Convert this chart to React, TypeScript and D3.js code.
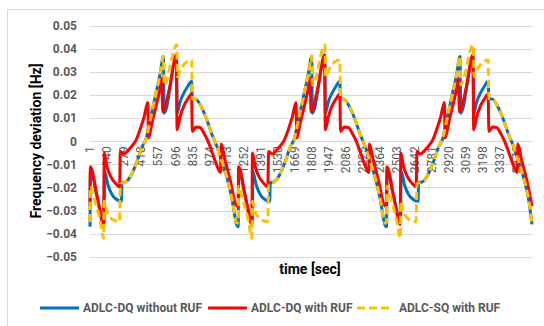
import React, { useEffect, useRef } from 'react';
import * as d3 from 'd3';

// sample index on the category axis, frequency deviation in Hz
const tickLabels = [1, 140, 279, 418, 557, 696, 835, 974, 1113, 1252, 1391, 1530, 1669, 1808, 1947, 2086, 2225, 2364, 2503, 2642, 2781, 2920, 3059, 3198, 3337, 3476];
const yTicks = [0.05, 0.04, 0.03, 0.02, 0.01, 0, -0.01, -0.02, -0.03, -0.04, -0.05];
const sampleCount = 3600;

const dqNoRuf: [number, number][] = [
  [1, -0.037], [4, -0.0124], [58, -0.024], [115, -0.035], [119, -0.013], [148, -0.019], [180, -0.023], [213, -0.025], [257, -0.026], [262, -0.018],
  [294, -0.0175], [327, -0.0155], [359, -0.012], [392, -0.0075], [424, -0.0025], [457, 0.001], [490, 0.009], [530, 0.019], [571, 0.029], [599, 0.0368],
  [605, 0.0122], [705, 0.0365], [711, 0.0122], [734, 0.017], [766, 0.021], [799, 0.024], [828, 0.026], [834, 0.0185], [864, 0.0183], [897, 0.016],
  [929, 0.0125], [962, 0.008], [994, 0.003], [1033, -0.002], [1076, -0.009], [1114, -0.0153], [1157, -0.025], [1198, -0.0365],
  [1208, -0.037], [1211, -0.0124], [1265, -0.024], [1322, -0.035], [1326, -0.013], [1355, -0.019], [1387, -0.023], [1420, -0.025], [1464, -0.026], [1469, -0.018],
  [1501, -0.0175], [1534, -0.0155], [1566, -0.012], [1599, -0.0075], [1631, -0.0025], [1664, 0.001], [1697, 0.009], [1737, 0.019], [1778, 0.029], [1806, 0.0368],
  [1812, 0.0122], [1912, 0.0365], [1918, 0.0122], [1941, 0.017], [1973, 0.021], [2006, 0.024], [2035, 0.026], [2041, 0.0185], [2071, 0.0183], [2104, 0.016],
  [2136, 0.0125], [2169, 0.008], [2201, 0.003], [2240, -0.002], [2283, -0.009], [2321, -0.0153], [2364, -0.025], [2405, -0.0365],
  [2416, -0.037], [2419, -0.0124], [2473, -0.024], [2530, -0.035], [2534, -0.013], [2563, -0.019], [2595, -0.023], [2628, -0.025], [2672, -0.026], [2677, -0.018],
  [2709, -0.0175], [2742, -0.0155], [2774, -0.012], [2807, -0.0075], [2839, -0.0025], [2872, 0.001], [2905, 0.009], [2945, 0.019], [2986, 0.029], [3014, 0.0368],
  [3020, 0.0122], [3120, 0.0365], [3126, 0.0122], [3149, 0.017], [3181, 0.021], [3214, 0.024], [3243, 0.026], [3249, 0.0185], [3279, 0.0183], [3312, 0.016],
  [3344, 0.0125], [3377, 0.008], [3409, 0.003], [3448, -0.002], [3491, -0.009], [3529, -0.0153], [3572, -0.025], [3600, -0.036],
];

const dqRuf: [number, number][] = [
  [1, -0.028], [4, -0.011], [58, -0.0235], [112, -0.036], [117, -0.005], [139, -0.011], [172, -0.0155], [205, -0.018], [242, -0.0196], [248, -0.0044],
  [278, -0.0055], [310, -0.004], [343, -0.002], [376, 0.0005], [408, 0.005], [441, 0.0105], [472, 0.0168], [477, 0.0014], [506, 0.008], [538, 0.015],
  [571, 0.0228], [587, 0.0275], [593, 0.0128], [652, 0.024], [704, 0.0375], [710, 0.005], [734, 0.0105], [766, 0.0155], [799, 0.0185], [828, 0.0205],
  [834, 0.0043], [864, 0.0062], [897, 0.006], [929, 0.0035], [962, 0.0], [994, -0.0045], [1027, -0.0095], [1064, -0.0135], [1069, -0.0012], [1100, -0.008],
  [1141, -0.0165], [1198, -0.028],
  [1208, -0.028], [1211, -0.011], [1265, -0.0235], [1319, -0.036], [1324, -0.005], [1346, -0.011], [1379, -0.0155], [1412, -0.018], [1449, -0.0196], [1455, -0.0044],
  [1485, -0.0055], [1517, -0.004], [1550, -0.002], [1583, 0.0005], [1615, 0.005], [1648, 0.0105], [1679, 0.0168], [1684, 0.0014], [1713, 0.008], [1745, 0.015],
  [1778, 0.0228], [1794, 0.0275], [1800, 0.0128], [1859, 0.024], [1911, 0.0375], [1917, 0.005], [1941, 0.0105], [1973, 0.0155], [2006, 0.0185], [2035, 0.0205],
  [2041, 0.0043], [2071, 0.0062], [2104, 0.006], [2136, 0.0035], [2169, 0.0], [2201, -0.0045], [2234, -0.0095], [2271, -0.0135], [2276, -0.0012], [2307, -0.008],
  [2348, -0.0165], [2405, -0.028],
  [2416, -0.028], [2419, -0.011], [2473, -0.0235], [2527, -0.036], [2532, -0.005], [2554, -0.011], [2587, -0.0155], [2620, -0.018], [2657, -0.0196], [2663, -0.0044],
  [2693, -0.0055], [2725, -0.004], [2758, -0.002], [2791, 0.0005], [2823, 0.005], [2856, 0.0105], [2887, 0.0168], [2892, 0.0014], [2921, 0.008], [2953, 0.015],
  [2986, 0.0228], [3002, 0.0275], [3008, 0.0128], [3067, 0.024], [3119, 0.0375], [3125, 0.005], [3149, 0.0105], [3181, 0.0155], [3214, 0.0185], [3243, 0.0205],
  [3249, 0.0043], [3279, 0.0062], [3312, 0.006], [3344, 0.0035], [3377, 0.0], [3409, -0.0045], [3442, -0.0095], [3479, -0.0135], [3484, -0.0012], [3515, -0.008],
  [3556, -0.0165], [3600, -0.028],
];

const sqRuf: [number, number][] = [
  [1, -0.035], [4, -0.0195], [42, -0.026], [82, -0.034], [112, -0.042], [117, -0.026], [139, -0.0305], [172, -0.0333], [205, -0.0344], [242, -0.0348],
  [248, -0.0185], [294, -0.0175], [327, -0.0155], [359, -0.012], [392, -0.0075], [424, -0.0025], [457, 0.001], [490, 0.009], [530, 0.019], [571, 0.029],
  [599, 0.0368], [605, 0.0245], [707, 0.0418], [713, 0.028], [734, 0.0305], [766, 0.0333], [799, 0.0348], [828, 0.0353], [834, 0.0185], [864, 0.0183],
  [897, 0.016], [929, 0.0125], [962, 0.008], [994, 0.003], [1033, -0.002], [1076, -0.009], [1114, -0.0153], [1157, -0.025], [1198, -0.0355],
  [1208, -0.035], [1211, -0.0195], [1249, -0.026], [1289, -0.034], [1319, -0.042], [1324, -0.026], [1346, -0.0305], [1379, -0.0333], [1412, -0.0344], [1449, -0.0348],
  [1455, -0.0185], [1501, -0.0175], [1534, -0.0155], [1566, -0.012], [1599, -0.0075], [1631, -0.0025], [1664, 0.001], [1697, 0.009], [1737, 0.019], [1778, 0.029],
  [1806, 0.0368], [1812, 0.0245], [1914, 0.0418], [1920, 0.028], [1941, 0.0305], [1973, 0.0333], [2006, 0.0348], [2035, 0.0353], [2041, 0.0185], [2071, 0.0183],
  [2104, 0.016], [2136, 0.0125], [2169, 0.008], [2201, 0.003], [2240, -0.002], [2283, -0.009], [2321, -0.0153], [2364, -0.025], [2405, -0.0355],
  [2416, -0.035], [2419, -0.0195], [2457, -0.026], [2497, -0.034], [2527, -0.042], [2532, -0.026], [2554, -0.0305], [2587, -0.0333], [2620, -0.0344], [2657, -0.0348],
  [2663, -0.0185], [2709, -0.0175], [2742, -0.0155], [2774, -0.012], [2807, -0.0075], [2839, -0.0025], [2872, 0.001], [2905, 0.009], [2945, 0.019], [2986, 0.029],
  [3014, 0.0368], [3020, 0.0245], [3122, 0.0418], [3128, 0.028], [3149, 0.0305], [3181, 0.0333], [3214, 0.0348], [3243, 0.0353], [3249, 0.0185], [3279, 0.0183],
  [3312, 0.016], [3344, 0.0125], [3377, 0.008], [3409, 0.003], [3448, -0.002], [3491, -0.009], [3529, -0.0153], [3572, -0.025], [3600, -0.0355],
];

const seriesNames = ['ADLC-DQ without RUF', 'ADLC-DQ with RUF', 'ADLC-SQ with RUF'];
const seriesColors = ['#0070C0', '#FF0000', '#FFC000'];

export default function App() {
  const ref = useRef<SVGSVGElement>(null);

  useEffect(() => {
    const width = 544, height = 326;
    const svg = d3.select(ref.current);
    svg.selectAll('*').remove();
    const font = 'Roboto, Arial, sans-serif';
    const gray = '#595959';

    svg.append('rect').attr('width', width).attr('height', height).attr('fill', '#fff');
    svg.append('rect')
      .attr('x', 7.5).attr('y', 9.5).attr('width', 700).attr('height', 500)
      .attr('fill', 'none').attr('stroke', '#D9D9D9');

    var x = d3.scaleLinear().domain([1, sampleCount]).range([90, 532]);
    var y = d3.scaleLinear().domain([-0.05, 0.05]).range([256.7, 26]);

    // gridlines
    svg.append('g').selectAll('line').data(yTicks).enter().append('line')
      .attr('x1', 90).attr('x2', 532)
      .attr('y1', d => Math.round(y(d)) + 0.5).attr('y2', d => Math.round(y(d)) + 0.5)
      .attr('stroke', '#D9D9D9').attr('stroke-width', 1);

    // y tick labels
    svg.append('g').selectAll('text').data(yTicks).enter().append('text')
      .attr('x', 77).attr('y', d => y(d)).attr('dy', '0.35em')
      .attr('text-anchor', 'end')
      .style('font', `bold 12px ${font}`).style('fill', gray)
      .text(d => d3.format('')(+d.toFixed(2)));

    // x tick labels, rotated, sitting under the zero line
    svg.append('g').selectAll('text').data(tickLabels).enter().append('text')
      .attr('transform', d => 'translate(' + x(d) + ',' + (y(0) + 5) + ') rotate(-90)')
      .attr('dy', '0.35em').attr('text-anchor', 'end')
      .style('font', `12px ${font}`).style('fill', gray)
      .text(d => d);

    // axis titles
    svg.append('text')
      .attr('transform', 'translate(41,141) rotate(-90)')
      .attr('text-anchor', 'middle')
      .style('font', `bold 14px ${font}`).style('fill', '#000')
      .text('Frequency deviation [Hz]');
    svg.append('text')
      .attr('x', 310).attr('y', 274).attr('text-anchor', 'middle')
      .style('font', `bold 14px ${font}`).style('fill', '#000')
      .text('time [sec]');

    // series
    var line = d3.line<[number, number]>()
      .x(d => x(d[0])).y(d => y(d[1]))
      .curve(d3.curveMonotoneX);
    [dqNoRuf, dqRuf, sqRuf].forEach((data, i) => {
      svg.append('path')
        .attr('d', line(data))
        .attr('fill', 'none')
        .attr('stroke', seriesColors[i])
        .attr('stroke-width', 3)
        .attr('stroke-linejoin', 'round')
        .attr('stroke-dasharray', i === 2 ? '8,4' : null);
    });

    // legend
    var legendX = [40, 208, 357];
    var lg = svg.append('g').selectAll('g').data(seriesNames).enter().append('g')
      .attr('transform', (d, i) => 'translate(' + legendX[i] + ',308)');
    lg.append('line')
      .attr('x1', 0).attr('x2', (d, i) => i === 2 ? 36 : 39)
      .attr('stroke', (d, i) => seriesColors[i]).attr('stroke-width', 3)
      .attr('stroke-dasharray', (d, i) => i === 2 ? '8,4' : null);
    lg.append('text')
      .attr('x', (d, i) => i === 2 ? 42 : 43).attr('dy', '0.35em')
      .style('font', `bold 12px ${font}`).style('fill', gray)
      .text(d => d);
  }, []);

  return (
    <svg ref={ref} width={544} height={326} style={{ position: 'absolute', left: 0, top: 0 }} />
  );
}
